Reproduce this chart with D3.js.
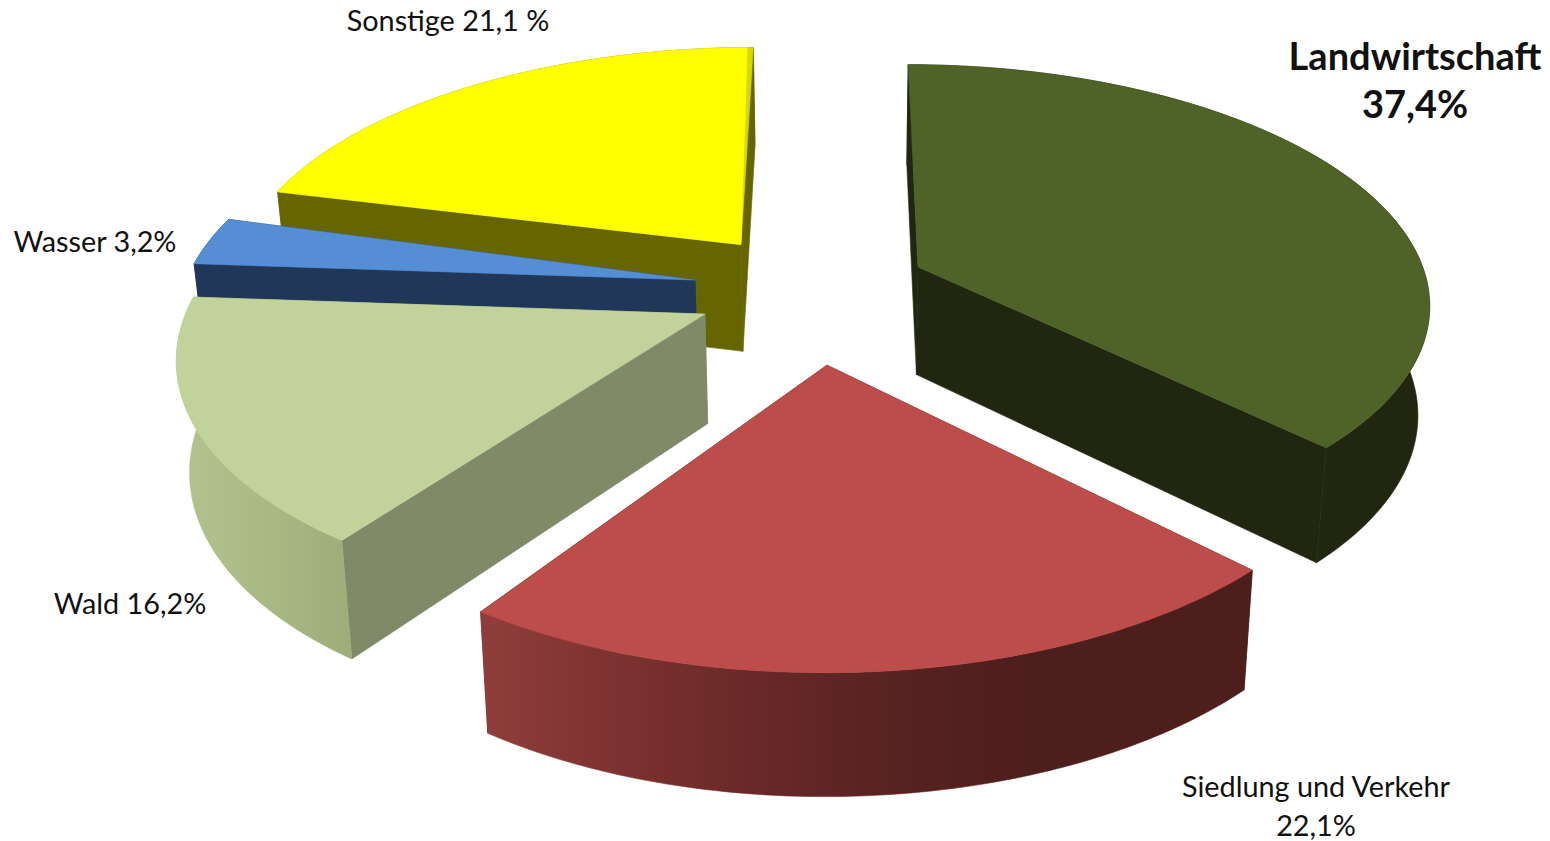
<!DOCTYPE html>
<html>
<head>
<meta charset="utf-8">
<title>Flächennutzung</title>
<script src="https://cdn.jsdelivr.net/npm/d3@7"></script>
<style>
html, body { margin: 0; padding: 0; background: #fff; overflow: hidden; }
text { font-family: Lato, "Open Sans", sans-serif; fill: #111; }
</style>
</head>
<body>
<script>
// chart values, clockwise from the top of the pie
var categories = ["Landwirtschaft", "Siedlung und Verkehr", "Wald", "Wasser", "Sonstige"];
var values = [37.4, 22.1, 16.2, 3.2, 21.1];
var topColors = ["#4f6228", "#bd4d4a", "#c1d39a", "#558ed5", "#ffff00"];
var wallColors = ["#20260f", "#4a1c1b", "#808a68", "#21375a", "#666600"];
var labelLines = [["Landwirtschaft", "37,4%"], ["Siedlung und Verkehr", "22,1%"], ["Wald 16,2%"], ["Wasser 3,2%"], ["Sonstige 21,1 %"]];

var width = 1550, height = 841;

// perspective of the pie's ground plane
var vanishX = 840, horizonY = 300;
var rx = 515, ry = 241, persp = 0.147;
var shrink = 0.98;

// how far each slice is pulled out (sideways in px, depth in radii), and its small turn in degrees
var pull = [[79.6, -0.14], [-12.5, 0.26], [-133.9, 0.058], [-146.8, -0.084], [-102.5, -0.238]];
var spin = [0, 0, 1.5, 1.5, 0];

var labelPos = [[1415, 70], [1316, 797], [130, 614], [95, 252], [448, 31]];
var labelSize = [38, 28.8, 28.8, 28.8, 28.8];
var lineGap = [48, 39, 0, 0, 0];
var drawOrder = [4, 3, 2, 0, 1];

function project(angle, radius, i) {
    var a = angle + spin[i] * Math.PI / 180;
    var u = Math.sin(a) * radius;
    var v = pull[i][1] - Math.cos(a) * radius;
    var s = 1 / (1 - persp * v);
    return [vanishX + (pull[i][0] + rx * u) * s, horizonY + ry * v * s];
}

// the underside is the top face moved down, a bit more towards the viewer
function under(p) {
    return [vanishX + (p[0] - vanishX) * shrink, p[1] + 97 + 0.04 * p[1]];
}

var svg = d3.select("body").append("svg")
    .attr("width", width)
    .attr("height", height);

var defs = svg.append("defs");
var x = d3.scaleLinear().domain([0, 1]).range([0, 100]);

function addGradient(id, x1, x2, colors) {
    var g = defs.append("linearGradient")
        .attr("id", id)
        .attr("gradientUnits", "userSpaceOnUse")
        .attr("x1", x1).attr("x2", x2).attr("y1", 0).attr("y2", 0);
    colors.forEach(function (c, k) {
        g.append("stop").attr("offset", x(k / (colors.length - 1)) + "%").attr("stop-color", c);
    });
}
addGradient("siedlungSide", 486, 1030, ["#8f3d3a", "#752e2d", "#5c2423", "#4c1e1c"]);
addGradient("waldSide", 185, 365, ["#b3c28e", "#a8b883", "#9bab78"]);

var outerFill = [wallColors[0], "url(#siedlungSide)", "url(#waldSide)", wallColors[3], wallColors[4]];

var pie = d3.pie().sort(null);
var slices = pie(values);

var line = d3.line();

function arcPoints(d, i, endTrim) {
    var end = d.endAngle - (endTrim || 0);
    var n = Math.max(4, Math.round((end - d.startAngle) * 60));
    return d3.range(n + 1).map(function (k) {
        return project(d.startAngle + (end - d.startAngle) * k / n, 1, i);
    });
}

function face(g, pts, fill) {
    g.append("path")
        .attr("d", line(pts) + "Z")
        .attr("fill", fill)
        .attr("stroke", fill)
        .attr("stroke-width", 0.6);
}

drawOrder.forEach(function (i) {
    var d = slices[i];
    var apex = project(0, 0, i);
    var arc = arcPoints(d, i);
    var first = arc[0], last = arc[arc.length - 1];
    var g = svg.append("g").attr("class", "slice").attr("data-name", categories[i]);

    face(g, [apex, first, under(first), under(apex)], wallColors[i]);
    face(g, [apex, last, under(last), under(apex)], wallColors[i]);
    face(g, arc.concat(arc.slice().reverse().map(under)), outerFill[i]);

    if (categories[i] == "Sonstige") {
        // thin lit edge on the right of the yellow slice
        face(g, [apex].concat(arc), "#d9d900");
        face(g, [apex].concat(arcPoints(d, i, 0.014)), topColors[i]);
    } else {
        face(g, [apex].concat(arc), topColors[i]);
    }
});

labelLines.forEach(function (lines, i) {
    var t = svg.append("text")
        .attr("text-anchor", "middle")
        .attr("font-size", labelSize[i])
        .attr("font-weight", i == 0 ? "bold" : "normal");
    lines.forEach(function (s, k) {
        t.append("tspan")
            .attr("x", labelPos[i][0])
            .attr("y", labelPos[i][1] + k * lineGap[i])
            .text(s);
    });
});
</script>
</body>
</html>
